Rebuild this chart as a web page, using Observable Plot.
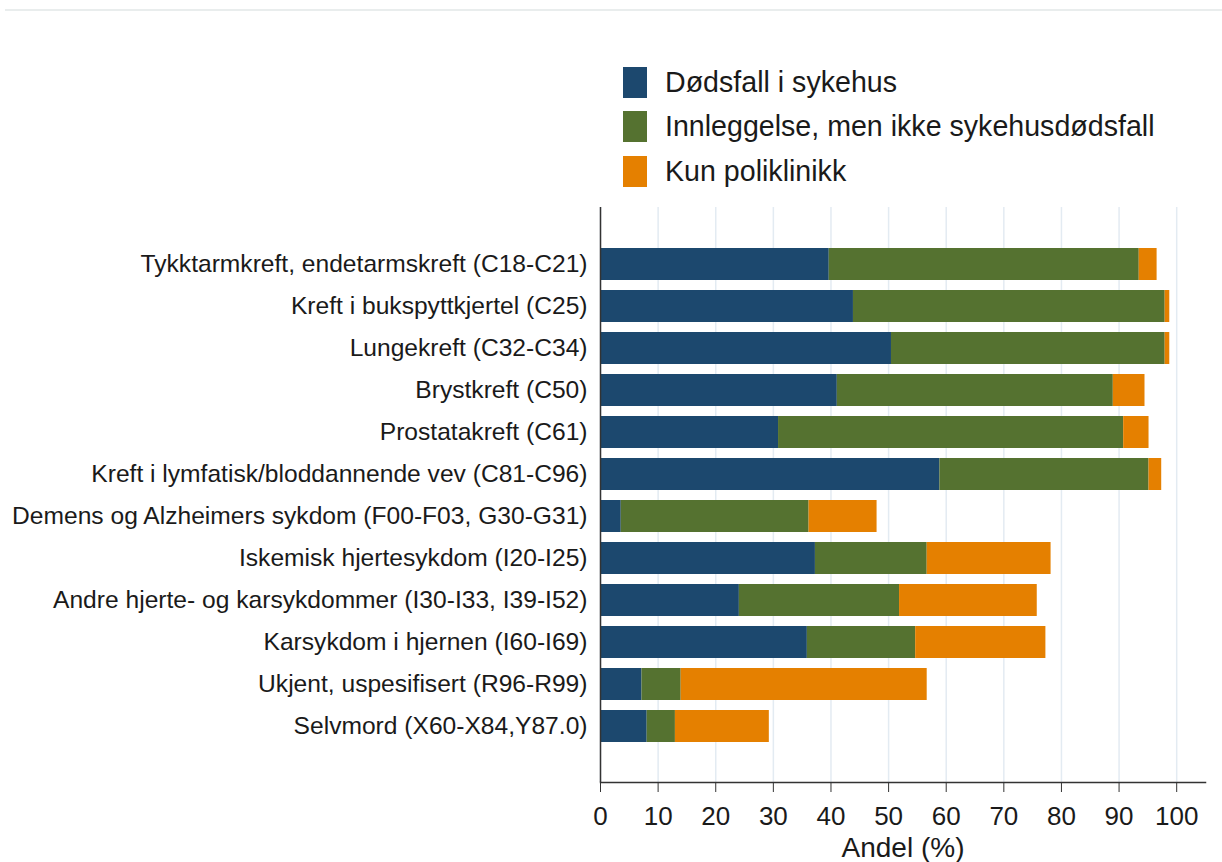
<!DOCTYPE html>
<html>
<head>
<meta charset="utf-8">
<script src="https://cdn.jsdelivr.net/npm/d3@7"></script>
<script src="https://cdn.jsdelivr.net/npm/@observablehq/plot@0.6"></script>
<style>
  html, body { margin: 0; padding: 0; background: #fff; }
  body { width: 1222px; height: 862px; position: relative; overflow: hidden;
         font-family: "Liberation Sans", Arial, sans-serif; color: #1a1a1a; }
  #topline { position: absolute; top: 9px; left: 5px; right: 0; height: 2px; background: #e9eded; }
  #legend { position: absolute; left: 623px; top: 60px; }
  .item { display: flex; align-items: center; height: 44.5px; font-size: 28.6px; }
  .sw { width: 24px; height: 31px; margin-right: 18px; display: inline-block; }
  #chart { position: absolute; left: 0; top: 195px; }
</style>
</head>
<body>
<div id="topline"></div>
<div id="legend"></div>
<div id="chart"></div>
<script>
const categories = [
  "Tykktarmkreft, endetarmskreft (C18-C21)",
  "Kreft i bukspyttkjertel (C25)",
  "Lungekreft (C32-C34)",
  "Brystkreft (C50)",
  "Prostatakreft (C61)",
  "Kreft i lymfatisk/bloddannende vev (C81-C96)",
  "Demens og Alzheimers sykdom (F00-F03, G30-G31)",
  "Iskemisk hjertesykdom (I20-I25)",
  "Andre hjerte- og karsykdommer (I30-I33, I39-I52)",
  "Karsykdom i hjernen (I60-I69)",
  "Ukjent, uspesifisert (R96-R99)",
  "Selvmord (X60-X84,Y87.0)"
];
const series = ["Dødsfall i sykehus", "Innleggelse, men ikke sykehusdødsfall", "Kun poliklinikk"];
const dodsfallISykehus = [39.7, 43.9, 50.5, 41.1, 30.9, 58.9, 3.6, 37.3, 24.1, 35.9, 7.2, 8.1];
const innleggelse      = [53.8, 54.1, 47.5, 47.9, 59.9, 36.3, 32.6, 19.4, 27.8, 18.8, 6.8, 4.9];
const kunPoliklinikk   = [3.1, 0.8, 0.8, 5.5, 4.4, 2.2, 11.8, 21.5, 23.9, 22.6, 42.7, 16.3];
const xTicks = [0, 10, 20, 30, 40, 50, 60, 70, 80, 90, 100];
const colors = ["#1c486e", "#557230", "#e58000"];
const xLabel = "Andel (%)";

const seriesValues = [dodsfallISykehus, innleggelse, kunPoliklinikk];
const data = [];
series.forEach((s, si) => {
  categories.forEach((c, ci) => data.push({cat: c, series: s, value: seriesValues[si][ci]}));
});

// legend
const legend = document.getElementById("legend");
series.forEach((s, i) => {
  const it = document.createElement("div");
  it.className = "item";
  const sw = document.createElement("span");
  sw.className = "sw";
  sw.style.background = colors[i];
  it.appendChild(sw);
  it.appendChild(document.createTextNode(s));
  legend.appendChild(it);
});

const chart = Plot.plot({
  width: 1222,
  height: 667,
  marginLeft: 600,
  marginRight: 17,
  marginTop: 12,
  marginBottom: 80,
  style: {fontFamily: "'Liberation Sans', Arial, sans-serif", fontSize: "24px", color: "#1a1a1a", background: "transparent"},
  x: {domain: [0, 105]},
  y: {domain: categories, paddingInner: 0.25, paddingOuter: 0.878},
  color: {domain: series, range: colors},
  marks: [
    Plot.gridX(xTicks, {stroke: "#e3ebf2", strokeOpacity: 1, strokeWidth: 1.5}),
    Plot.barX(data, {y: "cat", x: "value", fill: "series", order: series}),
    Plot.ruleX([0], {stroke: "#333", strokeWidth: 1.5}),
    Plot.frame({anchor: "bottom", stroke: "#333", strokeWidth: 1.5}),
    Plot.axisX(xTicks, {tickSize: 10, tickPadding: 14, fontSize: 26, label: null, stroke: "#333"}),
    Plot.axisX({ticks: [], tickSize: 0, label: xLabel, fontSize: 28, labelAnchor: "center", labelArrow: "none", labelOffset: 74}),
    Plot.axisY({tickSize: 0, tickPadding: 13, fontSize: 24.6, label: null})
  ]
});
document.getElementById("chart").appendChild(chart);
</script>
</body>
</html>
